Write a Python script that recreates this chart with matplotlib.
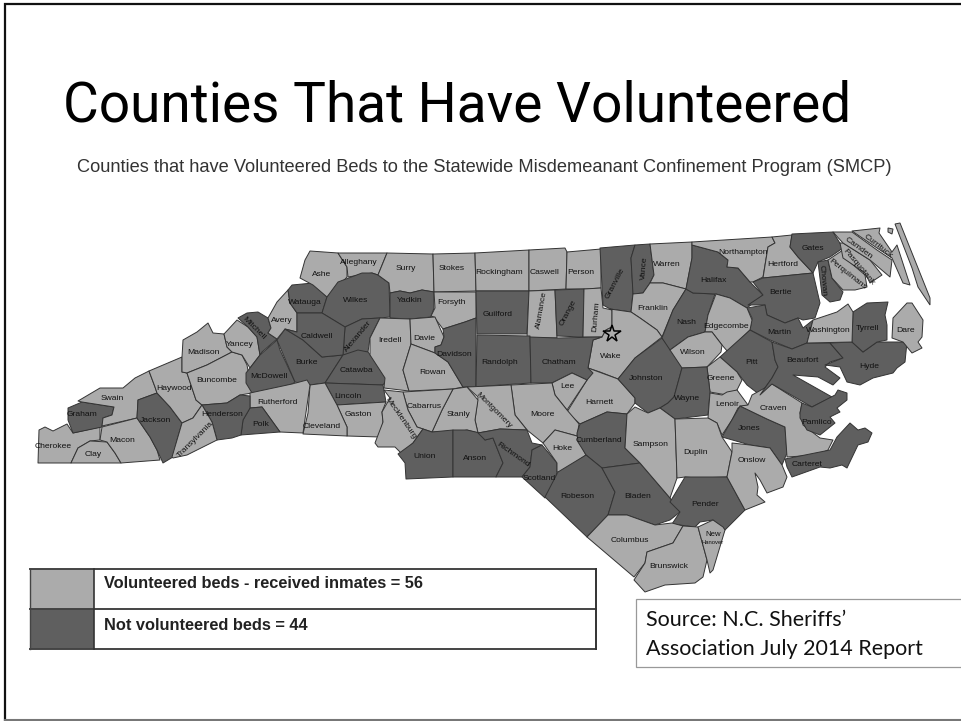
import matplotlib
matplotlib.use("Agg")
from matplotlib import pyplot as plt
from matplotlib.patches import Polygon, Rectangle

title = "Counties That Have Volunteered"
subtitle = "Counties that have Volunteered Beds to the Statewide Misdemeanant Confinement Program (SMCP)"
legend_labels = ["Volunteered beds - received inmates = 56", "Not volunteered beds = 44"]
source_lines = ["Source: N.C. Sheriffs\u2019", "Association July 2014 Report"]

not_volunteered = ["Graham", "Jackson", "Mitchell", "McDowell", "Burke", "Watauga", "Wilkes", "Yadkin",
                   "Caldwell", "Alexander", "Catawba", "Lincoln", "Henderson", "Polk", "Guilford", "Orange",
                   "Granville", "Vance", "Davidson", "Randolph", "Chatham", "Union", "Anson", "Richmond",
                   "Scotland", "Cumberland", "Robeson", "Bladen", "Pender", "Johnston", "Wayne", "Nash",
                   "Halifax", "Gates", "Chowan", "Bertie", "Martin", "Pitt", "Beaufort", "Hyde", "Tyrrell",
                   "Jones", "Pamlico", "Carteret"]

# outlines, in image pixels
outlines = {
    "Cherokee": [(38,463),(39,430),(45,427),(53,431),(67,424),(73,433),(100,427),(100,440),(90,441),(78,448),(71,463)],
    "Clay": [(71,463),(78,448),(90,441),(107,442),(115,453),(121,463)],
    "Graham": [(68,408),(82,402),(114,407),(112,415),(103,418),(102,427),(73,433),(68,420)],
    "Swain": [(78,401),(100,388),(123,388),(135,378),(149,371),(155,387),(157,393),(138,400),(137,418),(102,426),(103,418),(112,415),(114,407),(82,402)],
    "Macon": [(102,427),(137,418),(150,437),(157,450),(160,460),(121,463),(115,453),(107,442),(100,440)],
    "Jackson": [(138,400),(157,393),(170,407),(182,423),(177,440),(173,457),(163,463),(157,450),(150,437),(137,418)],
    "Haywood": [(149,371),(182,357),(182,372),(187,373),(196,400),(202,405),(193,418),(182,423),(170,407),(157,393),(155,387)],
    "Madison": [(182,357),(183,340),(197,332),(208,323),(213,333),(224,334),(227,347),(232,352),(207,365),(187,373),(182,372)],
    "Buncombe": [(187,373),(207,365),(232,352),(242,355),(247,365),(252,393),(240,395),(227,403),(202,405),(196,400)],
    "Yancey": [(224,334),(237,320),(248,327),(257,337),(260,355),(250,368),(242,355),(232,352),(227,347)],
    "Mitchell": [(238,318),(247,313),(258,312),(268,318),(271,328),(268,333),(277,339),(262,352),(260,355),(257,337),(248,327)],
    "McDowell": [(246,373),(250,368),(260,355),(277,340),(280,350),(295,382),(292,384),(260,393),(252,393),(246,383)],
    "Burke": [(277,340),(285,329),(303,340),(322,357),(343,355),(325,383),(310,385),(295,382)],
    "Avery": [(268,333),(271,328),(268,318),(277,302),(288,290),(290,303),(297,313),(297,332),(285,329),(277,339)],
    "Watauga": [(288,290),(292,285),(313,283),(327,297),(322,313),(297,313),(290,303)],
    "Ashe": [(310,251),(338,253),(347,267),(347,277),(337,288),(327,297),(313,285),(300,278),(305,260)],
    "Alleghany": [(338,253),(387,253),(378,275),(372,273),(348,277),(347,267)],
    "Wilkes": [(327,297),(338,282),(362,273),(372,273),(378,275),(389,283),(390,317),(380,318),(362,319),(345,327),(322,313)],
    "Surry": [(387,253),(433,254),(434,292),(422,290),(410,293),(400,291),(390,293),(389,283),(378,275)],
    "Stokes": [(433,254),(475,253),(476,291),(434,292)],
    "Rockingham": [(475,253),(529,250),(529,291),(476,291)],
    "Caswell": [(529,250),(565,248),(567,252),(566,289),(529,291)],
    "Person": [(567,252),(601,249),(601,288),(585,289),(566,289)],
    "Yadkin": [(390,293),(400,291),(410,293),(422,290),(434,292),(434,308),(431,317),(410,319),(390,318)],
    "Forsyth": [(434,292),(476,292),(476,318),(465,322),(443,329),(434,317),(431,316),(435,308)],
    "Guilford": [(476,291),(529,291),(527,334),(477,334)],
    "Alamance": [(529,291),(555,290),(557,338),(527,338)],
    "Orange": [(555,290),(584,289),(583,337),(557,336)],
    "Durham": [(584,289),(601,288),(603,308),(612,310),(612,327),(606,330),(602,337),(583,337)],
    "Granville": [(600,248),(635,245),(631,258),(633,292),(631,312),(610,309),(603,305)],
    "Vance": [(635,245),(650,244),(654,275),(650,283),(643,293),(633,294),(631,258)],
    "Warren": [(650,244),(692,242),(692,258),(686,289),(663,283),(650,283),(654,275)],
    "Franklin": [(650,283),(663,283),(686,289),(673,310),(662,337),(657,330),(640,318),(631,312),(633,294),(643,293)],
    "Wake": [(610,309),(631,312),(640,318),(657,330),(662,337),(635,358),(618,379),(600,372),(588,368),(593,340),(602,337),(606,330),(612,327),(612,310)],
    "Harnett": [(588,368),(618,379),(635,398),(635,403),(627,414),(607,412),(580,424),(567,412),(587,380)],
    "Johnston": [(618,379),(635,358),(662,338),(672,350),(682,368),(674,397),(668,403),(660,408),(648,413),(635,403),(635,398)],
    "Nash": [(686,289),(693,293),(715,294),(708,315),(705,332),(688,337),(670,350),(662,338),(673,310)],
    "Halifax": [(692,245),(718,252),(728,260),(727,267),(738,268),(750,282),(763,295),(747,308),(730,298),(716,294),(693,293),(686,289),(692,258)],
    "Northampton": [(692,242),(772,237),(775,243),(768,247),(763,277),(753,282),(750,282),(738,268),(727,267),(728,260),(718,252),(692,245)],
    "Hertford": [(772,237),(792,235),(790,247),(798,257),(813,273),(763,278),(768,247),(775,243)],
    "Gates": [(792,234),(833,232),(843,248),(830,257),(818,262),(813,273),(798,257),(790,247)],
    "Chowan": [(818,262),(828,260),(832,278),(843,292),(840,300),(830,302),(822,295)],
    "Perquimans": [(828,260),(843,250),(845,258),(865,275),(867,287),(855,290),(843,290),(832,278)],
    "Pasquotank": [(840,243),(843,243),(870,260),(882,275),(870,283),(865,273),(843,258)],
    "Camden": [(833,232),(852,232),(877,250),(892,260),(890,277),(870,260),(843,243)],
    "Currituck": [(852,231),(880,228),(879,233),(892,252),(897,245),(910,285),(903,283),(892,258),(877,248)],
    "Bertie": [(753,282),(763,278),(813,273),(820,303),(815,318),(803,320),(798,318),(785,323),(767,315),(765,305),(748,305),(763,295)],
    "Martin": [(747,308),(765,305),(767,315),(785,323),(798,318),(803,328),(813,320),(807,343),(792,349),(770,340),(750,330),(752,318)],
    "Edgecombe": [(716,294),(730,298),(747,308),(752,320),(750,330),(728,352),(722,345),(712,332),(705,332),(708,315)],
    "Wilson": [(670,350),(688,337),(705,332),(712,332),(722,345),(721,352),(707,367),(682,368)],
    "Pitt": [(720,357),(750,330),(772,342),(775,360),(778,367),(772,378),(760,395),(747,385),(737,372)],
    "Greene": [(707,367),(720,357),(737,372),(742,380),(737,390),(727,395),(710,392)],
    "Wayne": [(682,368),(707,367),(710,392),(708,415),(675,419),(660,408),(668,403),(674,397)],
    "Lenoir": [(710,393),(722,395),(727,392),(737,390),(748,405),(738,408),(732,420),(722,435),(717,423),(708,418)],
    "Jones": [(740,406),(767,419),(785,427),(787,453),(782,465),(770,448),(750,445),(722,437)],
    "Craven": [(748,405),(752,395),(772,384),(802,403),(800,413),(803,425),(820,438),(833,440),(828,450),(817,455),(787,457),(785,427),(767,419),(740,406)],
    "Beaufort": [(772,342),(792,349),(807,343),(830,343),(843,358),(830,362),(825,367),(840,378),(833,385),(818,377),(793,375),(832,397),(812,407),(772,384),(760,395),(772,378),(778,367),(775,360)],
    "Pamlico": [(802,403),(812,407),(835,395),(838,390),(847,393),(847,400),(837,408),(840,412),(830,417),(835,423),(820,435),(807,430),(800,418),(800,413)],
    "Carteret": [(785,459),(830,450),(837,437),(850,423),(858,430),(865,428),(872,433),(868,442),(858,445),(847,468),(842,465),(830,468),(820,467),(792,477),(787,467)],
    "Hyde": [(830,343),(852,342),(863,352),(877,342),(907,342),(905,362),(897,368),(893,373),(873,378),(860,385),(847,382),(840,367),(825,365),(843,358)],
    "Tyrrell": [(853,312),(867,303),(888,302),(885,315),(887,325),(887,340),(877,342),(863,352),(852,342)],
    "Washington": [(813,320),(837,312),(848,304),(853,312),(852,342),(807,343)],
    "Dare": [(893,318),(907,303),(912,303),(923,320),(922,337),(918,342),(922,348),(912,353),(903,342),(892,338)],
    "Alexander": [(345,327),(362,319),(380,318),(370,338),(368,352),(343,355)],
    "Caldwell": [(297,313),(322,313),(345,327),(343,355),(322,357),(303,340),(285,329),(297,332)],
    "Catawba": [(325,383),(343,355),(358,350),(368,352),(388,378),(383,385)],
    "Lincoln": [(325,383),(383,385),(386,402),(337,405)],
    "Gaston": [(337,405),(386,402),(382,412),(383,422),(380,437),(347,436),(347,427)],
    "Cleveland": [(310,385),(325,383),(337,405),(347,427),(347,436),(303,434),(308,413)],
    "Rutherford": [(250,393),(292,384),(307,380),(310,385),(303,433),(280,432),(262,407),(250,408)],
    "Polk": [(250,408),(262,407),(280,432),(241,435),(243,420)],
    "Henderson": [(202,405),(227,403),(240,395),(250,396),(250,408),(243,420),(241,435),(232,438),(217,440),(212,422)],
    "Transylvania": [(193,418),(202,405),(212,422),(217,440),(187,455),(173,458),(172,457),(177,440),(182,423)],
    "Iredell": [(380,318),(410,319),(411,344),(403,370),(409,391),(384,388),(385,378),(370,355),(370,338)],
    "Davie": [(410,319),(435,317),(444,337),(441,345),(435,347),(435,353),(411,344)],
    "Rowan": [(411,344),(435,353),(448,362),(463,387),(453,389),(409,391),(403,370)],
    "Davidson": [(443,329),(465,322),(476,318),(476,387),(463,387),(448,362),(435,353),(435,347),(441,345),(444,337)],
    "Randolph": [(477,335),(530,336),(531,383),(500,385),(476,387)],
    "Chatham": [(530,337),(557,338),(602,337),(593,340),(588,368),(593,373),(587,380),(572,373),(552,383),(531,383)],
    "Lee": [(552,383),(572,373),(587,380),(567,410),(555,395)],
    "Moore": [(511,385),(552,383),(555,395),(567,410),(579,424),(577,436),(555,430),(543,443),(527,430),(515,415)],
    "Montgomery": [(467,387),(511,385),(515,415),(527,430),(500,429),(478,433),(475,420),(478,397)],
    "Stanly": [(453,389),(467,387),(478,400),(475,420),(478,433),(467,430),(457,432),(432,432),(442,410)],
    "Cabarrus": [(403,392),(453,389),(442,410),(432,432),(423,429),(417,427),(408,410)],
    "Mecklenburg": [(384,390),(403,392),(408,410),(417,427),(423,429),(413,443),(402,454),(395,447),(378,447),(375,443),(383,422),(382,412),(390,398)],
    "Union": [(423,429),(432,432),(453,430),(453,477),(406,479),(405,463),(398,454),(413,443)],
    "Anson": [(453,430),(467,430),(480,433),(485,440),(493,438),(503,463),(496,477),(453,477)],
    "Richmond": [(478,433),(500,429),(527,430),(532,443),(542,445),(532,450),(530,467),(522,477),(496,477),(503,463),(493,438),(485,440)],
    "Scotland": [(532,450),(542,445),(557,463),(557,472),(553,487),(545,498),(522,477),(530,467)],
    "Hoke": [(543,443),(555,430),(577,436),(586,455),(563,472),(557,472),(557,463)],
    "Cumberland": [(577,433),(580,424),(607,412),(627,414),(625,448),(640,463),(602,468),(586,455),(578,442)],
    "Robeson": [(545,497),(558,472),(586,455),(602,468),(615,492),(608,515),(587,537)],
    "Bladen": [(602,468),(640,463),(670,498),(680,512),(670,520),(655,525),(627,515),(608,515),(615,492)],
    "Sampson": [(627,414),(635,407),(648,413),(660,408),(675,419),(677,478),(670,498),(640,463),(625,448)],
    "Duplin": [(675,419),(708,418),(717,423),(722,437),(732,452),(727,477),(697,478),(685,477),(677,478)],
    "Pender": [(685,477),(727,477),(745,510),(725,530),(713,520),(700,522),(695,527),(672,524),(680,512),(670,502)],
    "Onslow": [(732,443),(750,445),(770,448),(782,465),(787,477),(783,487),(767,493),(760,480),(755,473),(758,487),(757,495),(765,502),(745,510),(727,477),(732,452)],
    "Columbus": [(608,515),(627,515),(655,525),(672,523),(683,526),(673,543),(647,552),(645,563),(634,577),(587,537)],
    "Brunswick": [(683,526),(698,527),(707,560),(703,577),(695,583),(665,585),(645,592),(634,580),(645,563),(647,552),(673,543)],
    "New Hanover": [(698,527),(713,520),(723,527),(725,530),(713,570),(710,573),(707,560)],
}
# Outer Banks slivers, no county of their own on the map
banks = [[(895,224),(900,223),(930,298),(930,305),(918,287),(912,268)],
         [(888,228),(893,229),(892,234),(888,232)]]

# name: x, y, rotation
labels = {
    "Ashe": (322,274,0), "Alleghany": (359,263,0), "Surry": (406,268,0), "Stokes": (452,269,0),
    "Rockingham": (499,272,0), "Caswell": (545,273,0), "Person": (581,273,0), "Watauga": (305,302,0),
    "Wilkes": (356,301,0), "Yadkin": (410,301,0), "Forsyth": (451,303,0), "Guilford": (498,314,0),
    "Alamance": (542,310,80), "Orange": (568,313,62), "Durham": (596,317,85), "Granville": (615,283,62),
    "Vance": (644,268,85), "Warren": (667,264,0), "Northampton": (743,252,0), "Hertford": (783,264,0),
    "Gates": (813,249,0), "Camden": (859,248,-36), "Currituck": (878,246,-38), "Pasquotank": (858,267,-50),
    "Perquimans": (847,274,-38), "Chowan": (822,280,-85), "Halifax": (713,280,0), "Bertie": (781,293,0),
    "Franklin": (653,308,0), "Nash": (686,323,0), "Edgecombe": (726,326,0), "Martin": (779,333,0),
    "Washington": (828,331,0), "Tyrrell": (867,329,0), "Dare": (906,330,0), "Wake": (611,357,0),
    "Wilson": (693,352,0), "Pitt": (751,362,0), "Beaufort": (802,361,0), "Hyde": (869,367,0),
    "Johnston": (646,378,0), "Greene": (721,378,0), "Wayne": (687,399,0), "Lenoir": (727,405,0),
    "Craven": (773,408,0), "Jones": (749,429,0), "Pamlico": (817,422,0), "Carteret": (807,465,0),
    "Onslow": (752,461,0), "Sampson": (651,445,0), "Duplin": (695,452,0), "Pender": (705,504,0),
    "Bladen": (638,497,0), "Robeson": (577,497,0), "Cumberland": (599,441,0), "Hoke": (562,449,0),
    "Scotland": (539,479,0), "Columbus": (630,541,0), "Brunswick": (669,567,0), "Lee": (567,387,0),
    "Harnett": (599,403,0), "Moore": (542,415,0), "Chatham": (559,362,0), "Randolph": (500,363,0),
    "Davidson": (454,354,0), "Rowan": (432,373,0), "Davie": (424,339,0), "Iredell": (390,341,0),
    "Alexander": (358,336,50), "Caldwell": (317,337,0), "Burke": (307,363,0), "Catawba": (356,371,0),
    "Lincoln": (348,396,0), "Gaston": (358,415,0), "Cleveland": (322,426,0), "Mecklenburg": (400,418,-55),
    "Cabarrus": (424,406,0), "Stanly": (458,414,0), "Montgomery": (494,410,-45), "Richmond": (513,455,-35),
    "Anson": (475,458,0), "Union": (425,457,0), "Rutherford": (277,402,0), "Polk": (261,424,0),
    "Henderson": (222,414,0), "Transylvania": (195,440,45), "Jackson": (155,421,0), "Macon": (122,440,0),
    "Clay": (93,455,0), "Cherokee": (53,446,0), "Graham": (82,414,0), "Swain": (112,398,0),
    "Haywood": (174,388,0), "Buncombe": (217,381,0), "McDowell": (269,377,0), "Madison": (203,352,0),
    "Yancey": (240,344,0), "Mitchell": (254,328,-45), "Avery": (282,320,0),
}

LIGHT = "#ababab"
DARK = "#5f5f5f"
EDGE = "#333333"

fig = plt.figure(figsize=(9.61, 7.21), dpi=100)
ax = fig.add_axes([0, 0, 1, 1])
ax.set_xlim(0, 961)
ax.set_ylim(721, 0)
ax.axis("off")

# slide frame
ax.plot([5, 5, 961], [721, 4, 4], color="#111111", lw=1.6, solid_joinstyle="miter")
ax.plot([5, 961], [720, 720], color="#777777", lw=1.5)

ax.text(63, 122, title, family="Roboto", fontsize=39.6, color="black", va="baseline", ha="left")
ax.text(77, 168, subtitle, family="Liberation Sans", fontsize=13.15, color="#333333", va="center", ha="left")

for name, pts in outlines.items():
    color = DARK if name in not_volunteered else LIGHT
    ax.add_patch(Polygon(pts, closed=True, facecolor=color, edgecolor=EDGE, lw=0.7, joinstyle="round"))
for pts in banks:
    ax.add_patch(Polygon(pts, closed=True, facecolor=LIGHT, edgecolor=EDGE, lw=0.7))

for name, (x, y, rot) in labels.items():
    ax.text(x, y, name, family="Liberation Sans", fontsize=6.1, color="#111111",
            ha="center", va="center", rotation=rot, rotation_mode="anchor")
ax.text(713, 535, "New", family="Liberation Sans", fontsize=5.6, color="#111111", ha="center", va="center")
ax.text(713, 543, "Hanover", family="Liberation Sans", fontsize=4.2, color="#111111", ha="center", va="center")

ax.plot(612, 334, marker="*", ms=13, mfc=LIGHT, mec="black", mew=1.1, ls="none")

# legend table
ax.add_patch(Rectangle((30, 569), 64, 40, facecolor=LIGHT, edgecolor="none"))
ax.add_patch(Rectangle((30, 609), 64, 40, facecolor=DARK, edgecolor="none"))
for y in [569, 609, 649]:
    ax.plot([30, 596], [y, y], color="#444444", lw=1.4)
ax.plot([30, 30], [569, 649], color="#444444", lw=1.0)
ax.plot([94, 94], [569, 649], color="#333333", lw=1.2)
ax.plot([596, 596], [569, 649], color="#333333", lw=1.4)
ax.text(104, 584, legend_labels[0], family="Liberation Sans", fontweight="bold", fontsize=11.8, color="#222222", va="center")
ax.text(104, 625, legend_labels[1], family="Liberation Sans", fontweight="bold", fontsize=11.8, color="#222222", va="center")

# source box
ax.add_patch(Rectangle((636, 599), 330, 68, facecolor="white", edgecolor="#999999", lw=0.9))
ax.text(646, 620, source_lines[0], family="Lato", fontsize=15.5, color="#111111", va="center")
ax.text(646, 649, source_lines[1], family="Lato", fontsize=15.5, color="#111111", va="center")

fig.savefig("out.png", dpi=100)
